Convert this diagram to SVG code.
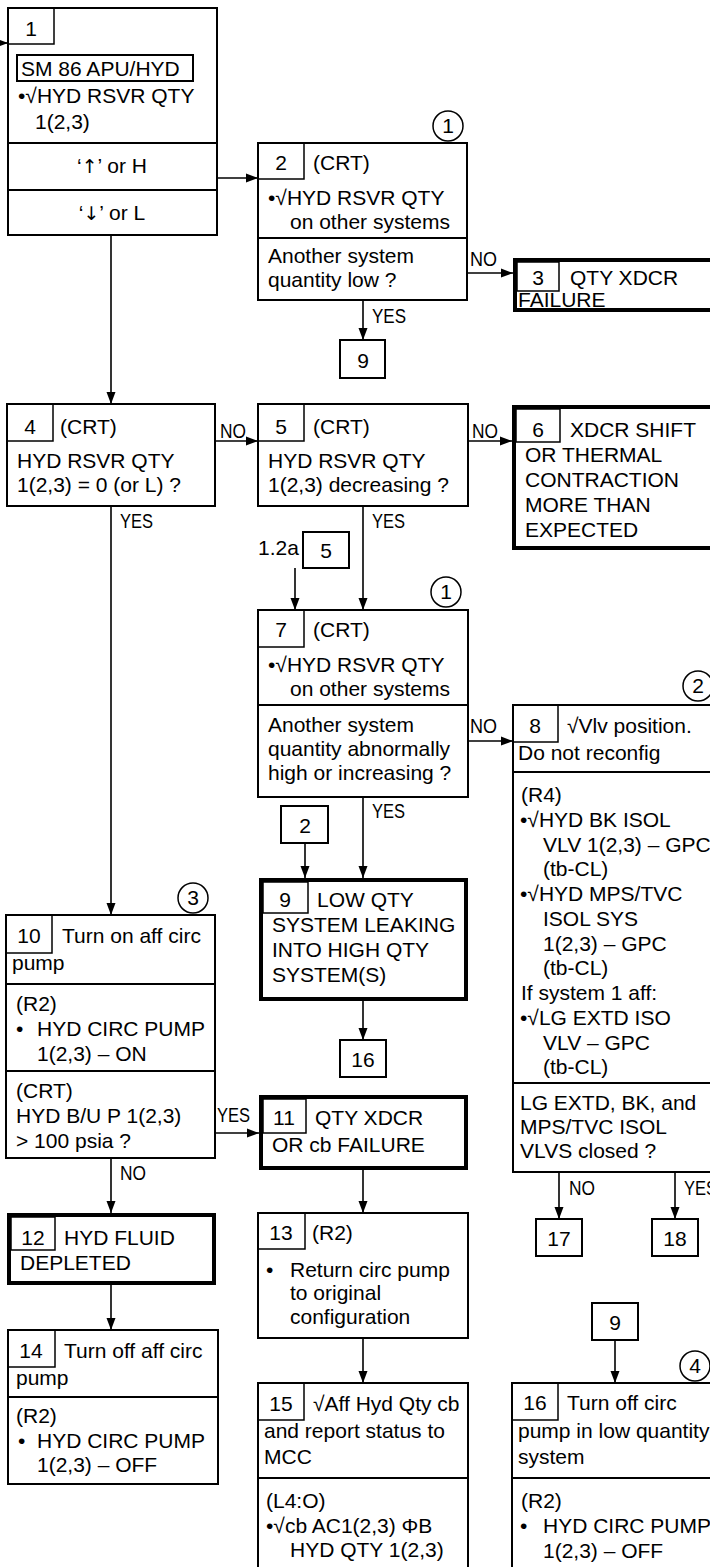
<svg xmlns="http://www.w3.org/2000/svg" width="710" height="1567" viewBox="0 0 710 1567">
<defs>
<marker id="ah" markerUnits="userSpaceOnUse" markerWidth="12" markerHeight="10" refX="12" refY="5" orient="auto">
<path d="M0,0.5 L12,5 L0,9.5 z" fill="#000"/>
</marker>
<style>
text{font-family:"Liberation Sans",Arial,sans-serif;font-size:21px;fill:#000}
.c{text-anchor:middle}
.lb{font-size:20px}
.ar{font-family:"DejaVu Sans",sans-serif;font-size:19px}
.b{fill:#fff;stroke:#000;stroke-width:2}
.k{fill:#fff;stroke:#000;stroke-width:4}
.n{fill:none;stroke:#000;stroke-width:1.5}
.s{stroke:#000;stroke-width:2}
.cr{fill:#fff;stroke:#000;stroke-width:1.5}
.a{stroke:#000;stroke-width:1.6;fill:none;marker-end:url(#ah)}
</style>
</defs>
<rect width="710" height="1567" fill="#fff"/>

<g id="connectors">
<line class="a" x1="-5" y1="43" x2="8" y2="43"/>
<line class="a" x1="217" y1="178" x2="258" y2="178"/>
<line class="a" x1="111" y1="235" x2="111" y2="404"/>
<line class="a" x1="467" y1="273" x2="513" y2="273"/>
<line class="a" x1="363" y1="300" x2="363" y2="340"/>
<line class="a" x1="215" y1="441" x2="258" y2="441"/>
<line class="a" x1="468" y1="441" x2="512" y2="441"/>
<line class="a" x1="111" y1="506" x2="111" y2="915"/>
<line class="a" x1="363" y1="506" x2="363" y2="610"/>
<line class="a" x1="295" y1="568" x2="295" y2="610"/>
<line class="a" x1="468" y1="741" x2="513" y2="741"/>
<line class="a" x1="363" y1="797" x2="363" y2="878"/>
<line class="a" x1="305" y1="843" x2="305" y2="878"/>
<line class="a" x1="363" y1="1001" x2="363" y2="1040"/>
<line class="a" x1="215" y1="1133" x2="259" y2="1133"/>
<line class="a" x1="111" y1="1158" x2="111" y2="1213"/>
<line class="a" x1="363" y1="1170" x2="363" y2="1213"/>
<line class="a" x1="111" y1="1285" x2="111" y2="1330"/>
<line class="a" x1="363" y1="1338" x2="363" y2="1383"/>
<line class="a" x1="559" y1="1172" x2="559" y2="1219"/>
<line class="a" x1="675" y1="1172" x2="675" y2="1219"/>
<line class="a" x1="615" y1="1340" x2="615" y2="1383"/>
<text class="lb" x="470" y="266" textLength="27" lengthAdjust="spacingAndGlyphs">NO</text>
<text class="lb" x="372" y="323" textLength="34" lengthAdjust="spacingAndGlyphs">YES</text>
<text class="lb" x="220" y="438" textLength="26" lengthAdjust="spacingAndGlyphs">NO</text>
<text class="lb" x="472" y="438" textLength="26" lengthAdjust="spacingAndGlyphs">NO</text>
<text class="lb" x="120" y="528" textLength="33" lengthAdjust="spacingAndGlyphs">YES</text>
<text class="lb" x="372" y="528" textLength="33" lengthAdjust="spacingAndGlyphs">YES</text>
<text x="258" y="555">1.2a</text>
<text class="lb" x="470" y="733" textLength="27" lengthAdjust="spacingAndGlyphs">NO</text>
<text class="lb" x="372" y="818" textLength="33" lengthAdjust="spacingAndGlyphs">YES</text>
<text class="lb" x="217" y="1122" textLength="33" lengthAdjust="spacingAndGlyphs">YES</text>
<text class="lb" x="120" y="1180" textLength="26" lengthAdjust="spacingAndGlyphs">NO</text>
<text class="lb" x="569" y="1195" textLength="26" lengthAdjust="spacingAndGlyphs">NO</text>
<text class="lb" x="684" y="1195" textLength="33" lengthAdjust="spacingAndGlyphs">YES</text>
</g>

<g id="node1">
<rect class="b" x="8" y="8" width="209" height="227"/>
<line class="s" x1="8" y1="143" x2="217" y2="143"/>
<line class="s" x1="8" y1="190" x2="217" y2="190"/>
<rect class="n" x="8" y="8" width="46" height="36"/>
<text class="c" x="31" y="36">1</text>
<rect x="17" y="55" width="176" height="26" fill="none" stroke="#000" stroke-width="2"/>
<text x="21" y="76">SM 86 APU/HYD</text>
<text x="18" y="103">•√HYD RSVR QTY</text>
<text x="35" y="129">1(2,3)</text>
<text class="c" x="112" y="173">‘<tspan class="ar">↑</tspan>’ or H</text>
<text class="c" x="112" y="220">‘<tspan class="ar">↓</tspan>’ or L</text>
</g>

<g id="node2">
<circle class="cr" cx="448" cy="126" r="15"/>
<text class="c" x="448" y="133">1</text>
<rect class="b" x="258" y="143" width="209" height="157"/>
<line class="s" x1="258" y1="238" x2="467" y2="238"/>
<rect class="n" x="258" y="143" width="46" height="36"/>
<text class="c" x="281" y="170">2</text>
<text x="313" y="170">(CRT)</text>
<text x="268" y="205">•√HYD RSVR QTY</text>
<text x="290" y="229">on other systems</text>
<text x="268" y="263">Another system</text>
<text x="268" y="287">quantity low ?</text>
</g>

<g id="ref9a">
<rect class="b" x="340" y="340" width="45" height="38"/>
<text class="c" x="363" y="368">9</text>
</g>

<g id="node3">
<rect class="k" x="515" y="260" width="200" height="50"/>
<rect class="n" x="517" y="262" width="42" height="29"/>
<text class="c" x="538" y="285">3</text>
<text x="570" y="285">QTY XDCR</text>
<text x="518" y="307">FAILURE</text>
</g>

<g id="node4">
<rect class="b" x="7" y="404" width="208" height="102"/>
<rect class="n" x="7" y="404" width="46" height="37"/>
<text class="c" x="30" y="434">4</text>
<text x="60" y="434">(CRT)</text>
<text x="17" y="468">HYD RSVR QTY</text>
<text x="17" y="492">1(2,3) = 0 (or L) ?</text>
</g>

<g id="node5">
<rect class="b" x="258" y="404" width="210" height="102"/>
<rect class="n" x="258" y="404" width="46" height="37"/>
<text class="c" x="281" y="434">5</text>
<text x="313" y="434">(CRT)</text>
<text x="268" y="468">HYD RSVR QTY</text>
<text x="268" y="492">1(2,3) decreasing ?</text>
</g>

<g id="node6">
<rect class="k" x="514" y="407" width="200" height="141"/>
<rect class="n" x="516" y="409" width="44" height="33"/>
<text class="c" x="538" y="437">6</text>
<text x="570" y="437">XDCR SHIFT</text>
<text x="525" y="462">OR THERMAL</text>
<text x="525" y="487">CONTRACTION</text>
<text x="525" y="512">MORE THAN</text>
<text x="525" y="537">EXPECTED</text>
</g>

<g id="ref5">
<rect class="b" x="303" y="532" width="46" height="36"/>
<text class="c" x="326" y="558">5</text>
</g>

<g id="node7">
<circle class="cr" cx="446" cy="592" r="15"/>
<text class="c" x="446" y="599">1</text>
<rect class="b" x="258" y="610" width="210" height="187"/>
<line class="s" x1="258" y1="705" x2="468" y2="705"/>
<rect class="n" x="258" y="610" width="46" height="37"/>
<text class="c" x="281" y="637">7</text>
<text x="313" y="637">(CRT)</text>
<text x="268" y="672">•√HYD RSVR QTY</text>
<text x="290" y="696">on other systems</text>
<text x="268" y="732">Another system</text>
<text x="268" y="756">quantity abnormally</text>
<text x="268" y="780">high or increasing ?</text>
</g>

<g id="node8">
<circle class="cr" cx="698" cy="686" r="15"/>
<text class="c" x="698" y="693">2</text>
<rect class="b" x="513" y="705" width="210" height="467"/>
<line class="s" x1="513" y1="772" x2="712" y2="772"/>
<line class="s" x1="513" y1="1083" x2="712" y2="1083"/>
<rect class="n" x="513" y="705" width="45" height="37"/>
<text class="c" x="535" y="733">8</text>
<text x="567" y="733">√Vlv position.</text>
<text x="518" y="760">Do not reconfig</text>
<text x="521" y="802">(R4)</text>
<text x="520" y="827">•√HYD BK ISOL</text>
<text x="543" y="852">VLV 1(2,3) – GPC</text>
<text x="543" y="876">(tb-CL)</text>
<text x="520" y="901">•√HYD MPS/TVC</text>
<text x="543" y="926">ISOL SYS</text>
<text x="543" y="951">1(2,3) – GPC</text>
<text x="543" y="975">(tb-CL)</text>
<text x="521" y="1000">If system 1 aff:</text>
<text x="520" y="1025">•√LG EXTD ISO</text>
<text x="543" y="1050">VLV – GPC</text>
<text x="543" y="1074">(tb-CL)</text>
<text x="520" y="1110">LG EXTD, BK, and</text>
<text x="520" y="1134">MPS/TVC ISOL</text>
<text x="520" y="1158">VLVS closed ?</text>
</g>

<g id="ref2">
<rect class="b" x="281" y="806" width="47" height="37"/>
<text class="c" x="305" y="833">2</text>
</g>

<g id="node9">
<rect class="k" x="261" y="880" width="205" height="119"/>
<rect class="n" x="263" y="882" width="45" height="31"/>
<text class="c" x="285" y="907">9</text>
<text x="317" y="907">LOW QTY</text>
<text x="272" y="932">SYSTEM LEAKING</text>
<text x="272" y="957">INTO HIGH QTY</text>
<text x="272" y="982">SYSTEM(S)</text>
</g>

<g id="node10">
<circle class="cr" cx="193" cy="898" r="15"/>
<text class="c" x="193" y="905">3</text>
<rect class="b" x="6" y="915" width="209" height="243"/>
<line class="s" x1="6" y1="984" x2="215" y2="984"/>
<line class="s" x1="6" y1="1071" x2="215" y2="1071"/>
<rect class="n" x="6" y="915" width="46" height="38"/>
<text class="c" x="29" y="943">10</text>
<text x="62" y="943">Turn on aff circ</text>
<text x="12" y="970">pump</text>
<text x="16" y="1011">(R2)</text>
<text x="16" y="1036">•</text>
<text x="37" y="1036">HYD CIRC PUMP</text>
<text x="37" y="1061">1(2,3) – ON</text>
<text x="16" y="1098">(CRT)</text>
<text x="16" y="1123">HYD B/U P 1(2,3)</text>
<text x="16" y="1148">&gt; 100 psia ?</text>
</g>

<g id="ref16">
<rect class="b" x="340" y="1040" width="46" height="37"/>
<text class="c" x="363" y="1067">16</text>
</g>

<g id="node11">
<rect class="k" x="261" y="1097" width="205" height="71"/>
<rect class="n" x="263" y="1099" width="43" height="34"/>
<text class="c" x="284" y="1125">11</text>
<text x="315" y="1125">QTY XDCR</text>
<text x="272" y="1152">OR cb FAILURE</text>
</g>

<g id="node12">
<rect class="k" x="9" y="1215" width="205" height="68"/>
<rect class="n" x="11" y="1217" width="44" height="33"/>
<text class="c" x="33" y="1245">12</text>
<text x="64" y="1245">HYD FLUID</text>
<text x="20" y="1270">DEPLETED</text>
</g>

<g id="node13">
<rect class="b" x="258" y="1213" width="210" height="125"/>
<rect class="n" x="258" y="1213" width="47" height="36"/>
<text class="c" x="281" y="1240">13</text>
<text x="312" y="1240">(R2)</text>
<text x="266" y="1277">•</text>
<text x="290" y="1277">Return circ pump</text>
<text x="290" y="1300">to original</text>
<text x="290" y="1324">configuration</text>
</g>

<g id="node14">
<rect class="b" x="8" y="1330" width="210" height="154"/>
<line class="s" x1="8" y1="1397" x2="218" y2="1397"/>
<rect class="n" x="8" y="1330" width="47" height="37"/>
<text class="c" x="31" y="1358">14</text>
<text x="64" y="1358">Turn off aff circ</text>
<text x="16" y="1385">pump</text>
<text x="16" y="1423">(R2)</text>
<text x="18" y="1448">•</text>
<text x="37" y="1448">HYD CIRC PUMP</text>
<text x="37" y="1472">1(2,3) – OFF</text>
</g>

<g id="node15">
<rect class="b" x="258" y="1383" width="210" height="200"/>
<line class="s" x1="258" y1="1478" x2="468" y2="1478"/>
<rect class="n" x="258" y="1383" width="46" height="37"/>
<text class="c" x="281" y="1411">15</text>
<text x="313" y="1411">√Aff Hyd Qty cb</text>
<text x="264" y="1438">and report status to</text>
<text x="264" y="1464">MCC</text>
<text x="266" y="1508">(L4:O)</text>
<text x="266" y="1533">•√cb AC1(2,3) ΦB</text>
<text x="290" y="1557">HYD QTY 1(2,3)</text>
</g>

<g id="ref17">
<rect class="b" x="536" y="1219" width="46" height="37"/>
<text class="c" x="559" y="1246">17</text>
</g>

<g id="ref18">
<rect class="b" x="652" y="1219" width="46" height="37"/>
<text class="c" x="675" y="1246">18</text>
</g>

<g id="ref9b">
<rect class="b" x="592" y="1303" width="46" height="37"/>
<text class="c" x="615" y="1330">9</text>
</g>

<g id="node16">
<circle class="cr" cx="695" cy="1366" r="15"/>
<text class="c" x="695" y="1373">4</text>
<rect class="b" x="512" y="1383" width="210" height="200"/>
<line class="s" x1="512" y1="1478" x2="712" y2="1478"/>
<rect class="n" x="512" y="1383" width="46" height="37"/>
<text class="c" x="535" y="1410">16</text>
<text x="567" y="1410">Turn off circ</text>
<text x="518" y="1438">pump in low quantity</text>
<text x="518" y="1464">system</text>
<text x="521" y="1508">(R2)</text>
<text x="520" y="1533">•</text>
<text x="543" y="1533">HYD CIRC PUMP</text>
<text x="543" y="1558">1(2,3) – OFF</text>
</g>
</svg>
